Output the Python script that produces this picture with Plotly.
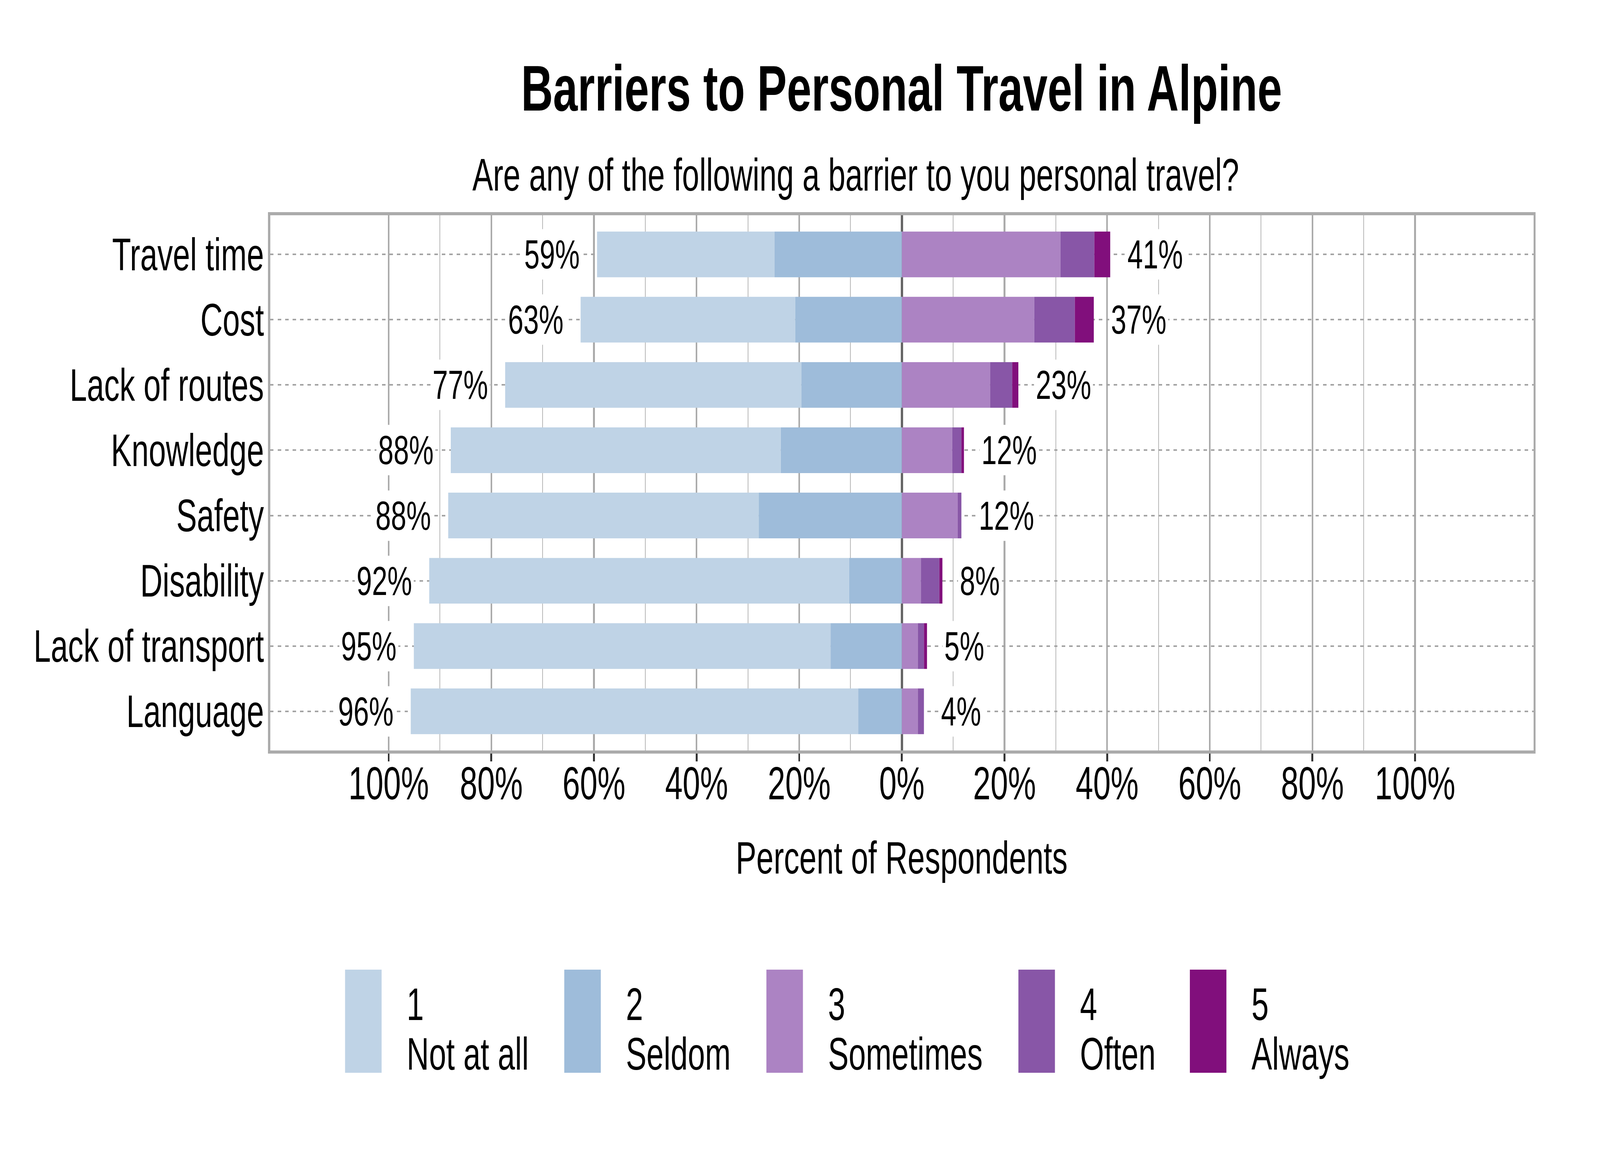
import plotly.graph_objects as go

# survey data (percent of respondents)
barriers = ["Travel time", "Cost", "Lack of routes", "Knowledge",
            "Safety", "Disability", "Lack of transport", "Language"]
not_at_all = [34.6, 41.8, 57.7, 64.3, 60.5, 81.8, 81.2, 87.2]
seldom = [24.8, 20.8, 19.6, 23.6, 27.9, 10.3, 13.9, 8.5]
sometimes = [30.9, 25.8, 17.2, 9.8, 10.9, 3.7, 3.1, 3.1]
often = [6.6, 7.9, 4.3, 1.8, 0.7, 3.6, 1.2, 1.2]
always = [3.1, 3.7, 1.2, 0.5, 0.0, 0.6, 0.6, 0.0]

levels = ["1", "2", "3", "4", "5"]
level_names = ["Not at all", "Seldom", "Sometimes", "Often", "Always"]
colors = ["#BFD3E6", "#9EBCDA", "#AC83C3", "#8856A7", "#810F7C"]

tick_vals = [-100, -80, -60, -40, -20, 0, 20, 40, 60, 80, 100]
tick_text = ["100%", "80%", "60%", "40%", "20%", "0%", "20%", "40%", "60%", "80%", "100%"]
minor_vals = [-90, -70, -50, -30, -10, 10, 30, 50, 70, 90]

FONT = "Liberation Sans, Arial, sans-serif"
W, H = 6000, 3000
L, R, T, B = 1013, 249, 551, 1079

fig = go.Figure()

# left side: stacked outwards from zero (seldom next to zero)
fig.add_trace(go.Bar(y=barriers, x=[-v for v in seldom], orientation="h",
                     marker=dict(color=colors[1], line=dict(width=0)), width=0.7, name=level_names[1]))
fig.add_trace(go.Bar(y=barriers, x=[-v for v in not_at_all], orientation="h",
                     marker=dict(color=colors[0], line=dict(width=0)), width=0.7, name=level_names[0]))
for vals, c, n in zip([sometimes, often, always], colors[2:], level_names[2:]):
    fig.add_trace(go.Bar(y=barriers, x=vals, orientation="h",
                         marker=dict(color=c, line=dict(width=0)), width=0.7, name=n))

# percent labels on each side
annotations = []
for i, cat in enumerate(barriers):
    left = not_at_all[i] + seldom[i]
    right = sometimes[i] + often[i] + always[i]
    annotations.append(dict(x=-left - 3, y=cat, xref="x", yref="y", text=f"{int(left + 0.5)}%",
                            xanchor="right", yanchor="middle", showarrow=False,
                            bgcolor="white", borderpad=6, font=dict(size=104, color="black", family=FONT)))
    annotations.append(dict(x=right + 3, y=cat, xref="x", yref="y", text=f"{int(right + 0.5)}%",
                            xanchor="left", yanchor="middle", showarrow=False,
                            bgcolor="white", borderpad=6, font=dict(size=104, color="black", family=FONT)))


def px_x(p):
    return (p - L) / (W - L - R)


def px_y(p):
    return (H - B - p) / (H - T - B)


# titles
annotations.append(dict(x=px_x(3381), y=px_y(225), xref="paper", yref="paper", showarrow=False,
                        text="<b>Barriers to Personal Travel in Alpine</b>", xanchor="center", yanchor="middle",
                        font=dict(size=166, color="black", family=FONT)))
annotations.append(dict(x=px_x(3209), y=px_y(448), xref="paper", yref="paper", showarrow=False,
                        text="Are any of the following a barrier to you personal travel?",
                        xanchor="center", yanchor="middle", font=dict(size=116, color="black", family=FONT)))
annotations.append(dict(x=px_x(3381), y=px_y(2196), xref="paper", yref="paper", showarrow=False,
                        text="Percent of Respondents", xanchor="center", yanchor="middle",
                        font=dict(size=116, color="black", family=FONT)))

# legend drawn by hand with tall keys like the original
shapes = []
key_left = [1294, 2116, 2874, 3819, 4462]
for k, lvl, name, c in zip(key_left, levels, level_names, colors):
    shapes.append(dict(type="rect", xref="paper", yref="paper", x0=px_x(k), x1=px_x(k + 137),
                       y0=px_y(2746), y1=px_y(2482), fillcolor=c, line=dict(width=0)))
    annotations.append(dict(x=px_x(k + 229), y=px_y(2571), xref="paper", yref="paper", showarrow=False,
                            text=lvl, xanchor="left", yanchor="middle",
                            font=dict(size=116, color="black", family=FONT)))
    annotations.append(dict(x=px_x(k + 229), y=px_y(2698), xref="paper", yref="paper", showarrow=False,
                            text=name, xanchor="left", yanchor="middle",
                            font=dict(size=116, color="black", family=FONT)))

fig.update_layout(
    width=W, height=H,
    margin=dict(l=L, r=R, t=T, b=B),
    barmode="relative",
    showlegend=False,
    plot_bgcolor="white", paper_bgcolor="white",
    font=dict(family=FONT, color="black"),
    annotations=annotations,
    shapes=shapes,
)
fig.update_xaxes(
    range=[-123.1, 123.1], tickmode="array", tickvals=tick_vals, ticktext=tick_text,
    tickfont=dict(size=118, color="black"),
    ticks="outside", ticklen=20, tickwidth=7, tickcolor="#333333", ticklabelstandoff=-45,
    showgrid=True, gridcolor="#ABABAB", gridwidth=6,
    minor=dict(tickmode="array", tickvals=minor_vals, showgrid=True, gridcolor="#B8B8B8", gridwidth=3, ticks=""),
    zeroline=True, zerolinecolor="#666666", zerolinewidth=8,
    showline=True, mirror=True, linecolor="#ABABAB", linewidth=8,
)
fig.update_yaxes(
    range=[7.6, -0.6], categoryorder="array", categoryarray=barriers,
    tickfont=dict(size=116, color="black"), ticks="", ticklabelstandoff=-8,
    showgrid=True, gridcolor="#A3A3A3", gridwidth=4, griddash="13px,15px",
    showline=True, mirror=True, linecolor="#ABABAB", linewidth=8,
)

# the page may open in a window of another size: stretch the figure to fill it
fit_js = """
var gd = document.getElementById('{plot_id}');
document.documentElement.style.overflow = 'hidden';
document.body.style.overflow = 'hidden';
document.body.style.margin = '0';
var sx = window.innerWidth / 6000, sy = window.innerHeight / 3000;
gd.style.transformOrigin = '0 0';
gd.style.transform = 'scale(' + sx + ',' + sy + ')';
"""

fig.write_html("out.html", post_script=fit_js, config={"displayModeBar": False})
